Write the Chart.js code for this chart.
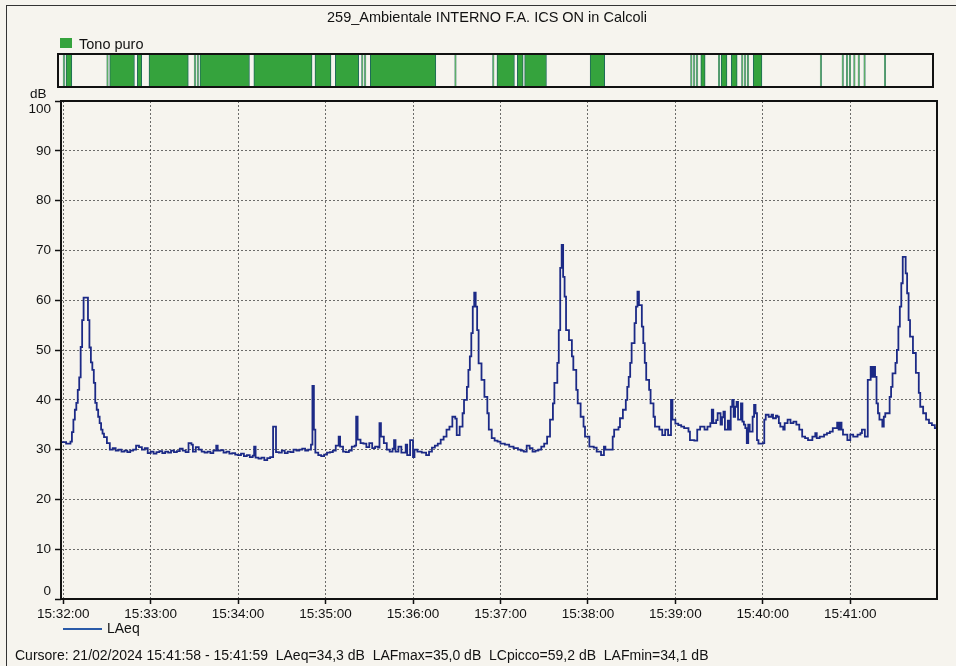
<!DOCTYPE html>
<html>
<head>
<meta charset="utf-8">
<script src="https://cdn.jsdelivr.net/npm/chart.js@4"></script>
<style>
  html, body { margin: 0; padding: 0; }
  body { width: 956px; height: 666px; background: #f6f4ee; position: relative; overflow: hidden;
         font-family: "Liberation Sans", Arial, sans-serif; color: #111; }
  .frame { position: absolute; left: 6px; top: 5px; width: 960px; height: 680px;
           border-left: 1.5px solid #333; border-top: 1.5px solid #333; }
  canvas { position: absolute; left: 0; top: 0; }
  .txt { position: absolute; white-space: nowrap; font-size: 14px; line-height: 1; }
</style>
</head>
<body>
<div class="frame"></div>
<canvas id="main" width="956" height="666"></canvas>
<canvas id="band" width="956" height="100"></canvas>
<div class="txt" id="title" style="left:0;width:974px;text-align:center;top:10px;font-size:14.5px;">259_Ambientale INTERNO F.A. ICS ON in Calcoli</div>
<div style="position:absolute;left:60px;top:38px;width:12px;height:10px;background:#35a33d;"></div>
<div class="txt" style="left:79px;top:37px;font-size:14.5px;">Tono puro</div>
<div class="txt" style="left:30px;top:87px;font-size:13.5px;">dB</div>
<div style="position:absolute;left:63px;top:628px;width:39px;height:2px;background:#2a5aa8;"></div>
<div class="txt" style="left:107px;top:621px;">LAeq</div>
<div class="txt" style="left:15px;top:648px;">Cursore: 21/02/2024 15:41:58 - 15:41:59&nbsp; LAeq=34,3 dB&nbsp; LAFmax=35,0 dB&nbsp; LCpicco=59,2 dB&nbsp; LAFmin=34,1 dB</div>
<script>
// ---- Data (time in seconds after 15:32:00, LAeq in dB) ----
const timeSec = [
 -1,2,5,6,7,8,9,10,11,12,13,14,17,18,19,20,21,22,23,24,25,26,27,28,30,32,34,36,38,40,
 42,44,46,48,50,52,54,56,58,60,62,64,66,68,70,72,74,76,78,80,82,84,86,88,89,91,93,95,97,99,
 101,103,105,106,108,110,112,114,116,118,120,122,124,126,128,130,131,132,134,136,138,140,142,144,146,
 148,150,152,154,156,158,160,162,164,166,168,170,171,172,173,175,177,179,181,183,185,187,189,190,192,
 194,196,198,200,201,202,204,206,208,210,212,214,216,217,218,220,222,224,226,227,228,230,232,235,236,
 238,240,241,243,246,249,251,253,255,257,259,261,263,265,267,269,270,272,274,275,277,278,279,280,281,
 282,283,284,285,287,289,291,292,294,296,298,
 300,303,306,309,312,314,316,318,320,322,324,326,328,330,332,334,336,337,339,340,341,342,343,344,345,
 347,349,350,352,353,355,357,358,361,364,366,369,371,372,375,377,378,381,382,384,386,387,388,389,390,
 392,393,394,395,397,398,399,400,402,403,405,406,409,411,413,415,417,418,420,422,424,426,429,430,433,
 435,437,440,442,444,445,446,448,
 449,451,452,453,454,456,457,458,459,460,461,462,463,465,466,467,468,469,470,471,473,474,475,476,477,
 480,481,482,484,486,487,489,490,491,492,494,495,497,499,501,503,505,507,509,511,514,516,517,519,522,
 524,526,528,531,532,533,534,535,538,540,542,545,547,548,550,552,554,555,556,557,558,559,560,562,563,
 564,567,568,569,571,572,573,574,575,576,578,579,580,581,583,585,587,588,590,592,594,596,598,599
];
const laeqDb = [
 31.5,31.2,31.6,33.5,36,38,39.4,42,44.5,50.6,56,60.5,56,50.5,47.5,46,43.4,39.4,38,36.6,35.3,34,33.2,32.5,31.3,30,30.3,29.8,30,29.6,
 29.8,29.5,29.8,30,30.8,30.5,30,30.3,29.3,29.6,29.2,29.5,29.7,29.3,29.6,29.4,29.8,29.5,29.7,30.2,29.8,29.5,31.3,31,29.6,30.5,30,29.6,29.4,29.6,
 29.3,29.8,30.8,29.8,29.9,29.4,29.6,29.2,29.3,29,28.9,29.2,28.7,28.9,28.5,28.8,30.6,28.4,28.2,28.4,27.9,28.3,28.5,34.6,29.5,
 29.4,29.8,29.3,29.6,29.5,30,29.8,30,30.2,29.8,30,31,42.8,34,29.4,28.9,28.7,29,29.4,29.5,29.8,30.8,32.6,30.6,29.6,
 29.5,29.8,30.6,30.8,36.6,32,31.3,31.2,30.5,31.3,30.3,30.6,30.4,35.3,32.6,31.3,30,29.6,30.2,31.9,29.6,30.6,29.4,31,28.9,
 31.9,28.5,30,29.6,29.4,28.9,29.6,30.4,30.8,31.2,32,32.6,34,34.6,36.6,36.2,32.9,34.6,37.3,40,42.6,46,48.7,53.4,58.7,
 61.5,58.7,54,47.3,44,40.6,37.3,34,32.3,31.8,31.6,
 31.2,31,30.6,30.3,30,29.8,29.6,30.8,30.3,29.6,29.8,30,30.6,31.2,32.6,36,39.3,43.4,47.4,54,66.5,71.1,64.7,60.7,54,
 52,48.7,46,42,39.3,36.6,34.6,32.6,30.6,30.4,29.6,28.9,30.6,30,30,32.6,34,34.5,36.3,38,40,42.6,44.6,47.4,51.4,
 55.4,58.7,61.7,59,54.7,51.4,47.4,44,42,39.3,36.6,34.6,34,32.9,34,32.9,40,36,35.2,34.9,34.6,34.3,33.6,31.9,31.8,
 34,34.6,34,34.6,35.3,38,35.3,35.9,
 37.3,35,36.5,37.6,34,35.8,34,38.6,40,36.6,38.6,39.6,36,39.3,35.6,35,34.3,31.3,35,33.6,36.6,39,37.3,31.9,31.2,
 31.3,36,37,36.6,37,36.3,36.8,36.6,35.3,34.6,34,35.3,36,35.3,35.6,35,34,32.6,32.3,31.9,32.6,33.3,32.3,32.6,33,
 33.3,33.6,34.3,35.4,34,35.4,34,33,31.9,33,32.6,33,33.3,34,32.6,44,46.6,44.6,46.6,44.6,39.3,37.3,36,34.6,36.6,
 37.3,40.6,42.6,45.3,47.4,50,54.7,58.7,63.4,68.7,65.4,61.4,56,52.7,49.4,45.4,41.4,38.6,37.3,36,35.3,34.9,34.3,34.3
];
// Tono puro detection intervals [start, end] in seconds after 15:32:00
const tonoStart = [2,4,32,34,53,61,92,94,96,133,175,189,207,209,213,271,297,300,314,319,364,433,435,437,440,452,454,461,468,470,472,476,522,537,540,542,545,548,552,566];
const tonoEnd   = [3,8,33,51,56,88,93,95,130,173,186,205,208,210,258,272,298,312,318,334,374,434,436,438,443,453,458,465,469,471,473,482,523,538,541,543,546,549,553,567];
const xTickSec = [0,60,120,180,240,300,360,420,480,540];
const xTickLabels = ["15:32:00","15:33:00","15:34:00","15:35:00","15:36:00","15:37:00","15:38:00","15:39:00","15:40:00","15:41:00"];
const yTicks = [0,10,20,30,40,50,60,70,80,90,100];

const FONT = "'Liberation Sans', Arial, sans-serif";
const frame = {
  id: 'frame',
  afterDraw(chart) {
    const {ctx, chartArea: a} = chart;
    ctx.save();
    ctx.strokeStyle = '#111';
    ctx.lineWidth = 2;
    ctx.strokeRect(a.left, a.top, a.right - a.left, a.bottom - a.top);
    ctx.restore();
  }
};

new Chart(document.getElementById('main'), {
  type: 'line',
  data: {
    datasets: [{
      label: 'LAeq',
      data: timeSec.map((t, i) => ({x: t, y: laeqDb[i]})),
      borderColor: '#1c2a86',
      borderWidth: 1.8,
      pointRadius: 0,
      stepped: true,
      fill: false
    }]
  },
  options: {
    responsive: false,
    animation: false,
    events: [],
    layout: { padding: { left: 0, right: 19, top: 101, bottom: 37 } },
    plugins: { legend: { display: false }, tooltip: { enabled: false } },
    scales: {
      x: {
        type: 'linear', min: -1.5, max: 599.5,
        afterBuildTicks: s => { s.ticks = xTickSec.map(v => ({value: v})); },
        afterFit: s => { s.height = 30; },
        ticks: {
          autoSkip: false, maxRotation: 0, padding: 2,
          color: '#111', font: { family: FONT, size: 13.5 },
          callback: (v) => { const i = xTickSec.indexOf(v); return i >= 0 ? xTickLabels[i] : ''; }
        },
        grid: { color: 'rgba(50,50,50,0.7)', lineWidth: 1, tickLength: 5, tickColor: '#111', tickWidth: 1.5 },
        border: { display: false, dash: [2, 2] }
      },
      y: {
        min: 0, max: 100,
        afterBuildTicks: s => { s.ticks = yTicks.map(v => ({value: v})); },
        afterFit: s => { s.width = 61; },
        ticks: {
          color: '#111', padding: 4, font: { family: FONT, size: 13.5, lineHeight: 1.2 },
          // top and bottom labels sit inside the plot's height, as in the original
          callback: (v) => v === 100 ? ['', '100'] : (v === 0 ? ['0', ''] : String(v))
        },
        grid: { color: 'rgba(50,50,50,0.7)', lineWidth: 1, tickLength: 6, tickColor: '#111', tickWidth: 1.5 },
        border: { display: false, dash: [2, 2] }
      }
    }
  },
  plugins: [frame]
});

new Chart(document.getElementById('band'), {
  type: 'bar',
  data: {
    labels: ['Tono puro'],
    datasets: [{
      label: 'Tono puro',
      data: tonoStart.map((s, i) => ({x: [s, tonoEnd[i]], y: 'Tono puro'})),
      backgroundColor: '#35a33d',
      borderColor: '#1e6a58',
      borderWidth: {left: 1, right: 1, top: 0, bottom: 0},
      borderSkipped: false,
      barThickness: 33
    }]
  },
  options: {
    indexAxis: 'y',
    responsive: false,
    animation: false,
    events: [],
    layout: { padding: { left: 58, right: 23, top: 54, bottom: 13 } },
    plugins: { legend: { display: false }, tooltip: { enabled: false } },
    scales: {
      x: { type: 'linear', min: -1.5, max: 599.5, display: false },
      y: { type: 'category', display: false }
    }
  },
  plugins: [frame]
});
</script>
</body>
</html>
